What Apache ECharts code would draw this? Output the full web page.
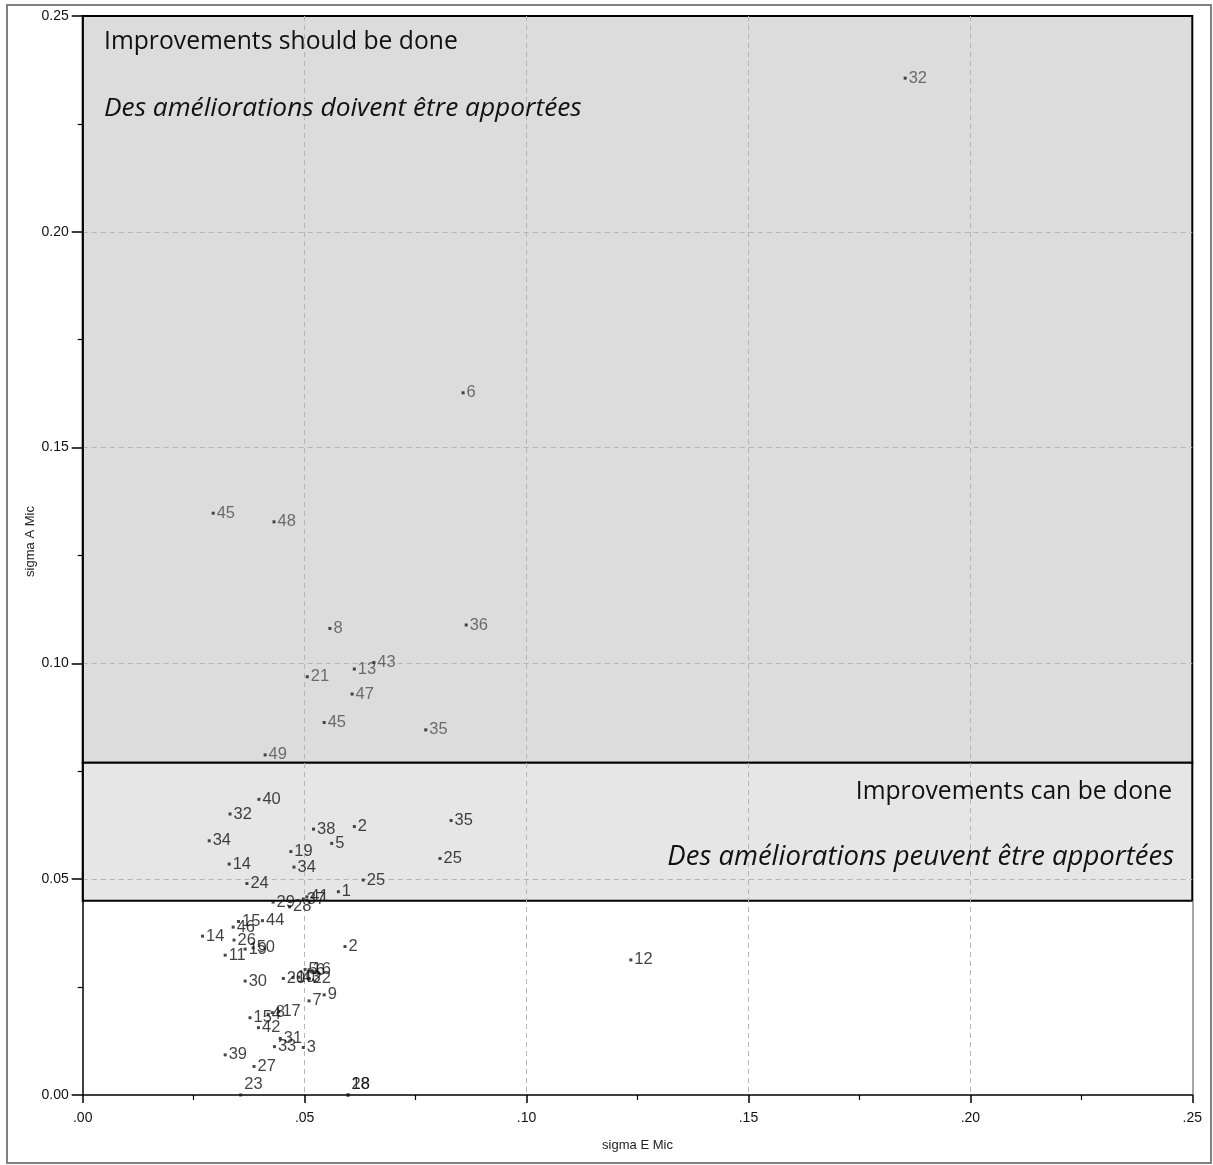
<!DOCTYPE html>
<html><head><meta charset="utf-8">
<script src="https://cdn.jsdelivr.net/npm/echarts@6/dist/echarts.min.js"></script>
<style>html,body{margin:0;padding:0;background:#fff}#c{width:1213px;height:1165px}</style>
</head><body><div id="c"></div>
<script>
// Point labels (case numbers)
const pointLabels = ['32','6','45','48','8','36','13','43','21','47','45','35','49',
  '40','32','34','38','2','5','35','19','34','14','25','24','25','1','37','41',
  '29','28','15','44','46','14','26','19','50','11','2','12','30','5','16','6',
  '20','10','43','22','7','9','15','4','8','17','42','31','33','3','39','27','23','18','28'];
// sigma E Mic (x)
const sigmaE = [0.1853,0.0857,0.0294,0.0431,0.0557,0.0864,0.0612,0.0656,0.0506,0.0607,0.0544,0.0773,0.0411,
  0.0397,0.0332,0.0285,0.0520,0.0612,0.0561,0.0830,0.0469,0.0476,0.0330,0.0805,0.0370,0.0632,0.0576,0.0497,0.0505,
  0.0429,0.0466,0.0351,0.0405,0.0339,0.0270,0.0341,0.0366,0.0384,0.0321,0.0591,0.1235,0.0366,0.0501,0.0510,0.0517,
  0.0452,0.0474,0.0487,0.0510,0.0510,0.0544,0.0377,0.0418,0.0427,0.0442,0.0396,0.0445,0.0432,0.0497,0.0321,0.0386,0.0356,0.0598,0.0598];
// sigma A Mic (y)
const sigmaA = [0.2356,0.1627,0.1348,0.1328,0.1081,0.1089,0.0987,0.1002,0.0969,0.0929,0.0863,0.0846,0.0788,
  0.0685,0.0651,0.0589,0.0616,0.0622,0.0583,0.0636,0.0564,0.0528,0.0535,0.0548,0.0490,0.0498,0.0471,0.0454,0.0459,
  0.0447,0.0436,0.0402,0.0404,0.0389,0.0368,0.0359,0.0338,0.0341,0.0324,0.0344,0.0313,0.0264,0.0291,0.0290,0.0288,
  0.0270,0.0272,0.0273,0.0270,0.0218,0.0232,0.0179,0.0187,0.0191,0.0193,0.0156,0.0131,0.0112,0.0110,0.0093,0.0066,0.0,0.0,0.0];
// Zone limits on sigma A
const zoneShould = [0.077, 0.25];
const zoneCan = [0.045, 0.077];
const xRange = [0, 0.25];
// Tick labels
const xTickLabels = ['.00','.05','.10','.15','.20','.25'];
const yTickLabels = ['0.00','0.05','0.10','0.15','0.20','0.25'];
const zoneTexts = ['Improvements should be done','Des améliorations doivent être apportées',
  'Improvements can be done','Des améliorations peuvent être apportées'];

const chart = echarts.init(document.getElementById('c'), null, {renderer:'canvas'});
const data = pointLabels.map((l,i)=>{
  const item = {name:l, value:[sigmaE[i], sigmaA[i]],
    label:{color: sigmaA[i] > zoneShould[0] ? '#4d4d4d' : '#111'}};
  if (sigmaA[i] === 0) item.label.position = [5,-18];
  return item;
});
const F = 'Liberation Sans, Arial, sans-serif';
const ZF = 'Open Sans, sans-serif';
const split = {show:true, showMinLine:false, showMaxLine:false, lineStyle:{color:'#b5b5b5', type:[5,4], width:1}};
chart.setOption({
  animation:false,
  backgroundColor:'#fff',
  grid:{left:82.7, right:20.7, top:16, bottom:70, show:false},
  xAxis:{type:'value', min:0, max:0.25, interval:0.05,
    name:'sigma E Mic', nameLocation:'middle', nameGap:44, nameMoveOverlap:false,
    nameTextStyle:{fontFamily:F, fontSize:13, color:'#222'},
    axisLine:{show:true, onZero:false, lineStyle:{color:'#000', width:1.5}},
    axisTick:{show:true, length:8, lineStyle:{color:'#000', width:1.5}},
    minorTick:{show:true, splitNumber:2, length:5, lineStyle:{color:'#000', width:1.2}},
    axisLabel:{fontFamily:F, fontSize:14, color:'#111', margin:16,
      formatter:(v)=>xTickLabels[Math.round(v/0.05)]},
    splitLine:split
  },
  yAxis:{type:'value', min:0, max:0.25, interval:0.05,
    name:'sigma A Mic', nameLocation:'middle', nameGap:46, nameRotate:90, nameMoveOverlap:false,
    nameTextStyle:{fontFamily:F, fontSize:13, color:'#222', padding:[0,0,0,28]},
    axisLine:{show:true, onZero:false, lineStyle:{color:'#000', width:1.5}},
    axisTick:{show:true, length:11, lineStyle:{color:'#000', width:1.5}},
    minorTick:{show:true, splitNumber:2, length:5, lineStyle:{color:'#000', width:1.2}},
    axisLabel:{fontFamily:F, fontSize:14, color:'#111', margin:14,
      formatter:(v)=>yTickLabels[Math.round(v/0.05)]},
    splitLine:split
  },
  series:[
    {type:'scatter', data:[], silent:true,
      markArea:{silent:true, z:-1,
        data:[
          [{coord:[xRange[0], zoneShould[0]], itemStyle:{color:'#dcdcdc', borderColor:'#000', borderWidth:2}},
           {coord:[xRange[1], zoneShould[1]]}],
          [{coord:[xRange[0], zoneCan[0]], itemStyle:{color:'#e6e6e6', borderColor:'#000', borderWidth:2}},
           {coord:[xRange[1], zoneCan[1]]}]
        ]},
      markLine:{silent:true, symbol:'none', z:-1, label:{show:false},
        lineStyle:{color:'#888', type:'solid', width:1.5},
        data:[[{coord:[xRange[1], 0]}, {coord:[xRange[1], zoneCan[0]]}]]}
    },
    {type:'scatter', z:3, symbol:'rect', symbolSize:3,
      itemStyle:{color:'#1a1a1a'},
      label:{show:true, position:'right', distance:2, formatter:'{b}', fontFamily:F, fontSize:16.5},
      labelLayout:{hideOverlap:false},
      data:data}
  ],
  graphic:[
    {type:'rect', shape:{x:7, y:5, width:1204, height:1158}, style:{fill:'none', stroke:'#808080', lineWidth:2}, z:10},
    {type:'text', style:{x:104, y:42, text:zoneTexts[0], fontFamily:ZF, fontSize:24.7, fill:'#111', verticalAlign:'middle'}, z:10},
    {type:'text', style:{x:104, y:109, text:zoneTexts[1], fontFamily:ZF, fontSize:26.3, fontStyle:'italic', fill:'#111', verticalAlign:'middle'}, z:10},
    {type:'text', style:{x:1172, y:792, text:zoneTexts[2], fontFamily:ZF, fontSize:24.7, fill:'#111', align:'right', verticalAlign:'middle'}, z:10},
    {type:'text', style:{x:1174, y:857, text:zoneTexts[3], fontFamily:ZF, fontSize:27.5, fontStyle:'italic', fill:'#111', align:'right', verticalAlign:'middle'}, z:10}
  ]
});
</script></body></html>
